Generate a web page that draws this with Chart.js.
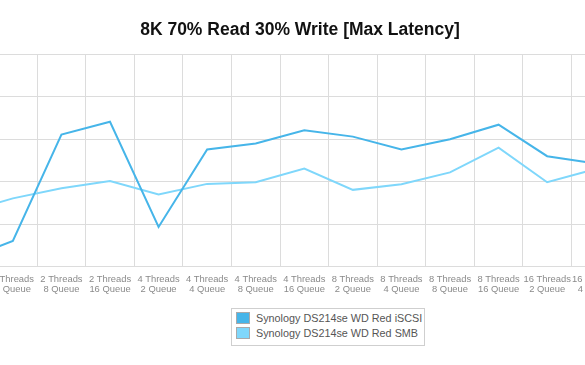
<!DOCTYPE html>
<html>
<head>
<meta charset="utf-8">
<script src="https://cdn.jsdelivr.net/npm/chart.js@4/dist/chart.umd.min.js"></script>
<style>
  html, body { margin: 0; padding: 0; background: #fff; }
  #wrap { position: relative; width: 585px; height: 365px; overflow: hidden; background: #fff; }
  #plot { position: absolute; left: -60px; top: 0; width: 720px; height: 302px; }
  #legend { position: absolute; left: 231px; top: 308px; width: 192px; height: 36px;
            border: 1px solid #cfcfcf; font-family: "Liberation Sans", Arial, Helvetica, sans-serif;
            font-size: 10.8px; color: #555; }
  .item { position: absolute; left: 4px; height: 12px; line-height: 12px; white-space: nowrap; }
  .sw { display: inline-block; width: 12px; height: 10px; border: 1px solid #a9a9a9; vertical-align: top; margin-right: 6px; }
</style>
</head>
<body>
<div id="wrap">
  <div id="plot"><canvas id="c" width="720" height="302"></canvas></div>
  <div id="legend"></div>
</div>
<script>
// Categories (the visible window of the original, partially cropped at both edges)
const threads = ["2 Threads","2 Threads","2 Threads","2 Threads","4 Threads","4 Threads","4 Threads","4 Threads","8 Threads","8 Threads","8 Threads","8 Threads","16 Threads","16 Threads"];
const queues  = ["2 Queue","4 Queue","8 Queue","16 Queue","2 Queue","4 Queue","8 Queue","16 Queue","2 Queue","4 Queue","8 Queue","16 Queue","2 Queue","4 Queue"];

// Series values (y-axis labels are cropped out of the reference)
const iscsi = [8.5, 30.5, 155.5, 170.5, 47, 138, 145, 160.5, 153, 138, 150, 167, 130, 121.5];
const smb   = [64, 80.5, 92.5, 101, 85, 97.5, 99.5, 115.5, 90.5, 97, 111, 140, 99.5, 115];

const seriesNames = ["Synology DS214se WD Red iSCSI", "Synology DS214se WD Red SMB"];
const seriesColors = ["#46b5e9", "#7fd7fb"];

const labels = threads.map((t, i) => [t, queues[i]]);
const gridColor = "#dcdcdc";

const chart = new Chart(document.getElementById("c"), {
  type: "line",
  data: {
    labels: labels,
    datasets: [
      { label: seriesNames[0], data: iscsi, borderColor: seriesColors[0], backgroundColor: seriesColors[0],
        borderWidth: 2, pointRadius: 0, tension: 0, fill: false },
      { label: seriesNames[1], data: smb, borderColor: seriesColors[1], backgroundColor: seriesColors[1],
        borderWidth: 2, pointRadius: 0, tension: 0, fill: false }
    ]
  },
  options: {
    responsive: false,
    animation: false,
    layout: { padding: 0 },
    plugins: {
      legend: { display: false },
      tooltip: { enabled: false },
      title: {
        display: true,
        text: "8K 70% Read 30% Write [Max Latency]",
        color: "#111",
        font: { family: "'Liberation Sans', Arial, Helvetica, sans-serif", size: 17.5, weight: "bold", lineHeight: 1.2 },
        padding: { top: 20, bottom: 13 }
      }
    },
    scales: {
      x: {
        offset: true,
        grid: { color: gridColor, offset: true, drawTicks: false, lineWidth: 1 },
        border: { color: gridColor },
        ticks: {
          autoSkip: false, maxRotation: 0, minRotation: 0, padding: 7,
          color: "#8a8a8a",
          font: { family: "'Liberation Sans', Arial, Helvetica, sans-serif", size: 9.4, lineHeight: 1.12 }
        },
        afterFit: (scale) => { scale.paddingLeft = 0; scale.paddingRight = 0; }
      },
      y: {
        position: "right",
        min: 0, max: 250,
        ticks: { display: false, stepSize: 50 },
        grid: { color: gridColor, drawTicks: false, lineWidth: 1 },
        border: { display: false },
        afterFit: (scale) => { scale.width = 40; }
      }
    }
  }
});

// Legend built from the chart's datasets
const lg = document.getElementById("legend");
chart.data.datasets.forEach((ds, i) => {
  const row = document.createElement("div");
  row.className = "item";
  row.style.top = (3 + i * 15) + "px";
  const sw = document.createElement("span");
  sw.className = "sw";
  sw.style.background = ds.backgroundColor;
  row.appendChild(sw);
  row.appendChild(document.createTextNode(ds.label));
  lg.appendChild(row);
});
</script>
</body>
</html>
